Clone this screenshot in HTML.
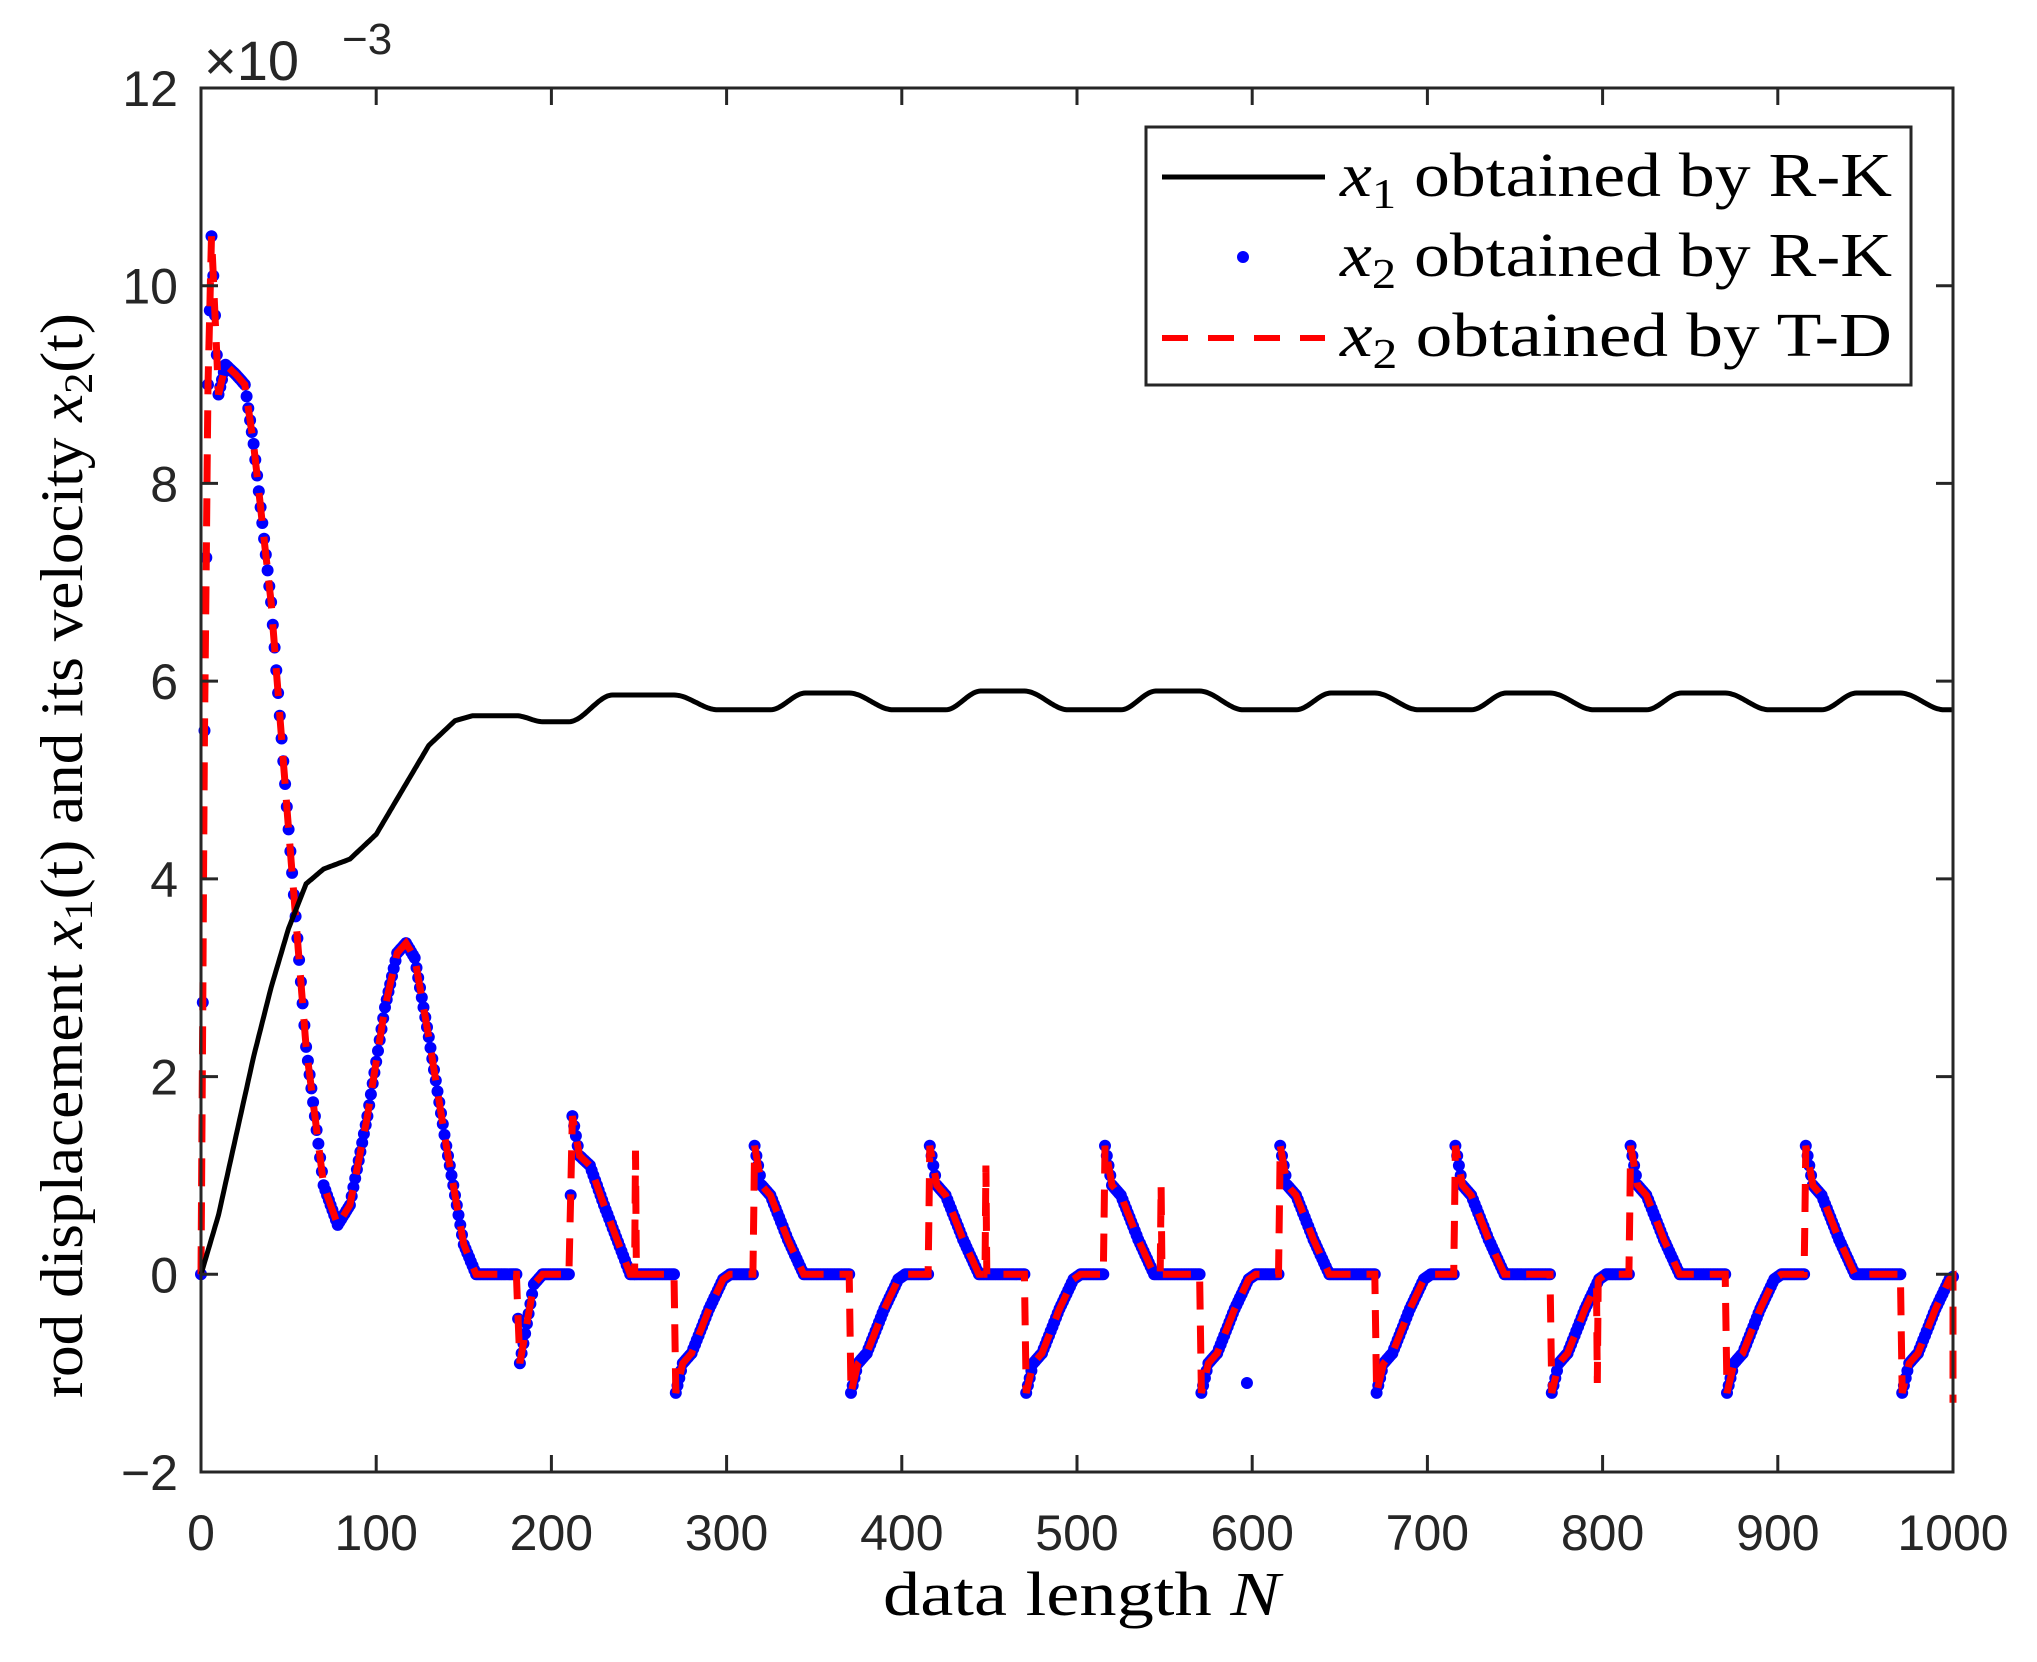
<!DOCTYPE html>
<html><head><meta charset="utf-8"><style>
html,body{margin:0;padding:0;background:#fff;width:2037px;height:1662px;overflow:hidden}
svg text{fill:#262626}
</style></head><body>
<svg id="s" width="2037" height="1662" xmlns="http://www.w3.org/2000/svg">
<rect width="2037" height="1662" fill="#fff"/>
<g id="plot"></g>
<rect x="201" y="88" width="1752" height="1384" fill="none" stroke="#262626" stroke-width="3"/>
<g id="ticks" stroke="#262626" stroke-width="3"></g>
<g id="labels" font-family="Liberation Sans, sans-serif" font-size="50"></g>
<text x="204" y="80" font-family="Liberation Sans, sans-serif" font-size="56">×10</text>
<text x="342" y="54" font-family="Liberation Sans, sans-serif" font-size="44">−3</text>
<text x="883" y="1615" textLength="397" lengthAdjust="spacingAndGlyphs" font-family="Liberation Serif, serif" font-size="62" style="fill:#000">data length <tspan font-style="italic">N</tspan></text>
<text transform="translate(82,1398) rotate(-90)" textLength="1085" lengthAdjust="spacingAndGlyphs" font-family="Liberation Serif, serif" font-size="60" style="fill:#000">rod displacement <tspan font-style="italic">x</tspan><tspan font-size="40" dy="10">1</tspan><tspan dy="-10">(t) and its velocity </tspan><tspan font-style="italic">x</tspan><tspan font-size="40" dy="10">2</tspan><tspan dy="-10">(t)</tspan></text>
<rect x="1146" y="127" width="765" height="258" fill="#fff" stroke="#262626" stroke-width="3"/>
<line x1="1162" y1="177" x2="1325" y2="177" stroke="#000" stroke-width="5"/>
<circle cx="1243" cy="257" r="6" fill="#0000ff"/>
<line x1="1162" y1="338" x2="1325" y2="338" stroke="#f00" stroke-width="6" stroke-dasharray="26,20"/>
<g font-family="Liberation Serif, serif" font-size="62" style="fill:#000">
<text x="1340" y="196" textLength="552" lengthAdjust="spacingAndGlyphs" style="fill:#000"><tspan font-style="italic">x</tspan><tspan font-size="42" dy="12">1</tspan><tspan dy="-12"> obtained by R-K</tspan></text>
<text x="1340" y="276" textLength="552" lengthAdjust="spacingAndGlyphs" style="fill:#000"><tspan font-style="italic">x</tspan><tspan font-size="42" dy="12">2</tspan><tspan dy="-12"> obtained by R-K</tspan></text>
<text x="1340" y="356" textLength="552" lengthAdjust="spacingAndGlyphs" style="fill:#000"><tspan font-style="italic">x</tspan><tspan font-size="42" dy="12">2</tspan><tspan dy="-12"> obtained by T-D</tspan></text>
</g>
</svg>
<script>
var NS="http://www.w3.org/2000/svg";
function X(n){return 201+n*1.752}
function Y(v){return 1472-(v+2)*98.857}
function el(t,a,p){var e=document.createElementNS(NS,t);for(var k in a)e.setAttribute(k,a[k]);p.appendChild(e);return e}
var tk=document.getElementById('ticks'),lb=document.getElementById('labels');
for(var i=0;i<=10;i++){var x=X(i*100);
 el('line',{x1:x,y1:1472,x2:x,y2:1455},tk);el('line',{x1:x,y1:88,x2:x,y2:105},tk);
 var t=el('text',{x:x,y:1550,'text-anchor':'middle'},lb);t.textContent=i*100;}
for(var v=-2;v<=12;v+=2){var y=Y(v);
 el('line',{x1:201,y1:y,x2:218,y2:y},tk);el('line',{x1:1953,y1:y,x2:1936,y2:y},tk);
 var t=el('text',{x:178,y:y+18,'text-anchor':'end'},lb);t.textContent=(v<0?'−':'')+Math.abs(v);}
function lerp(pts,n){for(var i=0;i<pts.length-1;i++){if(n<=pts[i+1][0]){var a=pts[i],b=pts[i+1];var f=(n-a[0])/(b[0]-a[0]);return a[1]+(b[1]-a[1])*f;}}return pts[pts.length-1][1];}
function sm(a,b,n){var t=Math.min(1,Math.max(0,(n-a)/(b-a)));return t*t*(3-2*t);}
function x1(n){
 if(n<=180) return lerp([[0,0],[10,0.6],[20,1.4],[30,2.2],[40,2.9],[50,3.5],[60,3.95],[70,4.1],[85,4.2],[100,4.45],[115,4.9],[130,5.35],[145,5.6],[155,5.65],[180,5.65]],n);
 if(n<=210) return 5.65-0.06*sm(180,195,n);
 var hi=[5.86,5.88,5.9,5.9,5.88,5.88,5.88,5.88];
 var v=5.59+(5.86-5.59)*sm(210,235,n);
 if(n>=270){var k=Math.floor((n-270)/100),c=270+k*100,r=n-c;
  var h=hi[k]||5.88,hn=hi[k+1]||5.88;
  if(r<25) v=h-(h-5.71)*sm(0,25,r); else if(r<55) v=5.71; else v=5.71+(hn-5.71)*sm(55,75,r);}
 if(n>970) v=5.88-(5.88-5.71)*sm(970,995,n);
 return v;}
function x2(n){
 if(n<=160) return lerp([[0,0],[2,5.5],[4,9],[6,10.5],[8,9.7],[10,8.9],[14,9.2],[20,9.1],[25,9.0],[30,8.4],[40,6.8],[50,4.5],[60,2.3],[70,0.9],[78,0.5],[85,0.7],[95,1.6],[105,2.7],[112,3.25],[117,3.35],[122,3.2],[130,2.4],[140,1.3],[150,0.3],[157,0],[160,0]],n);
 if(n<210){return lerp([[160,0],[180,0],[182,-0.9],[186,-0.5],[190,-0.1],[195,0],[210,0]],n);}
 if(n<270){return lerp([[210,0],[212,1.6],[216,1.2],[222,1.1],[230,0.7],[245,0],[270,0]],n);}
 var r=(n-270)%100;
 return lerp([[0,0],[1,-1.2],[5,-0.9],[10,-0.8],[20,-0.35],[28,-0.05],[32,0],[45,0],[46,1.3],[50,0.9],[55,0.8],[65,0.35],[74,0],[100,0]],r);}
var p=document.getElementById('plot');
var d1='',d2='';
for(var n=0;n<=1000;n++){d1+=(n?'L':'M')+X(n).toFixed(1)+' '+Y(x1(n)).toFixed(1);}
for(var n=0;n<=1000;n+=0.5){var v=x2(n);
 if(n==248)v=1.25;if(n==448)v=1.1;if(n==548)v=0.9;if(n==797)v=-1.1;
 d2+=(n?'L':'M')+X(n).toFixed(1)+' '+Y(v).toFixed(1);}
d2+='L'+X(1000)+' '+Y(-1.3);
var g=el('g',{fill:'#0000ff'},p);
for(var n=0;n<=1000;n+=1){el('circle',{cx:X(n).toFixed(1),cy:Y(x2(n)).toFixed(1),r:6},g);}
el('circle',{cx:X(597),cy:Y(-1.1),r:6},g);
el('path',{d:d2,fill:'none',stroke:'#ff0000','stroke-width':7,'stroke-dasharray':'28,16'},p);
el('path',{d:d1,fill:'none',stroke:'#000','stroke-width':5},p);
</script>
</body></html>
